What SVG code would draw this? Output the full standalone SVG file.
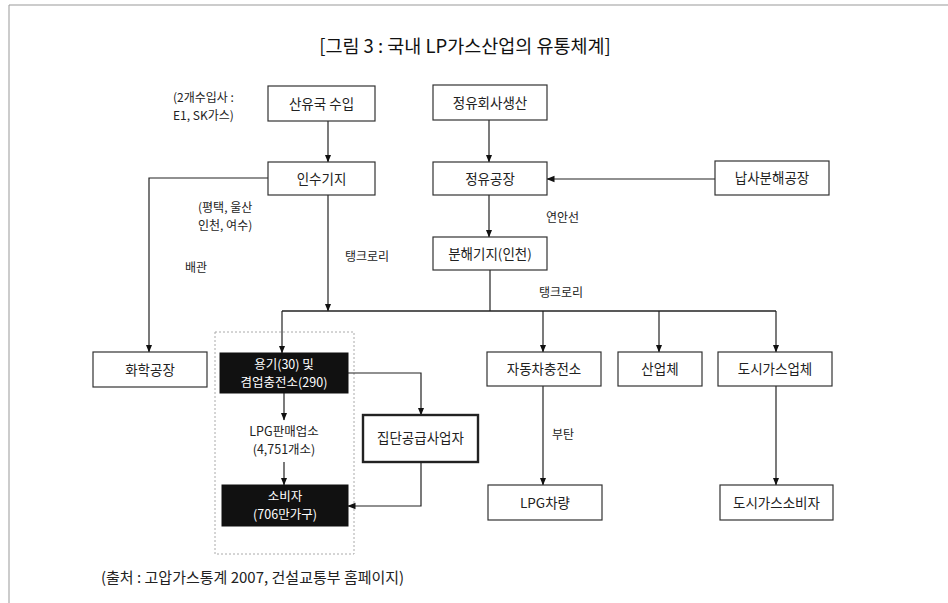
<svg xmlns="http://www.w3.org/2000/svg" width="948" height="603" viewBox="0 0 948 603">
<style>
text{font-family:"Noto Sans CJK KR","Noto Sans",sans-serif;fill:#222}
.n{font-size:13.5px;text-anchor:middle}
.n2{font-size:12.5px;text-anchor:middle}
.w{fill:#fff}
.l{font-size:12px}
.box{fill:#fff;stroke:#333;stroke-width:1.2}
.blk{fill:#111;stroke:#111;stroke-width:1}
.thick{fill:#fff;stroke:#222;stroke-width:2.4}
.c{fill:none;stroke:#222;stroke-width:1.2}
</style>
<defs>
<marker id="ah" markerUnits="userSpaceOnUse" markerWidth="8" markerHeight="8" viewBox="0 0 8 8" refX="7.5" refY="4" orient="auto">
<path d="M0,0.8 L8,4 L0,7.2 Z" fill="#111"/>
</marker>
</defs>
<rect width="948" height="603" fill="#fff"/>
<path d="M9,5 H948 M9,5 V603" fill="none" stroke="#999" stroke-width="1"/>
<text x="465" y="53" style="font-size:18.5px;text-anchor:middle;fill:#111">[그림 3 : 국내 LP가스산업의 유통체계]</text>

<rect x="215" y="332" width="139" height="222" fill="none" stroke="#aaa" stroke-width="1" stroke-dasharray="2,2"/>

<g id="connectors">
<path class="c" d="M328,121 V162" marker-end="url(#ah)"/>
<path class="c" d="M268,178 H149 V352" marker-end="url(#ah)"/>
<path class="c" d="M328,195 V311" marker-end="url(#ah)"/>
<path class="c" d="M489,120 V162" marker-end="url(#ah)"/>
<path class="c" d="M715,179 H547" marker-end="url(#ah)"/>
<path class="c" d="M489,195 V237" marker-end="url(#ah)"/>
<path class="c" d="M490,270 V311"/>
<path class="c" d="M282,311 H776" style="stroke-width:1.6"/>
<path class="c" d="M282,311 V353" marker-end="url(#ah)"/>
<path class="c" d="M543,311 V352" marker-end="url(#ah)"/>
<path class="c" d="M659,311 V352" marker-end="url(#ah)"/>
<path class="c" d="M776,311 V352" marker-end="url(#ah)"/>
<path class="c" d="M543,386 V485" marker-end="url(#ah)"/>
<path class="c" d="M776,386 V485" marker-end="url(#ah)"/>
<path class="c" d="M284,393 V420" marker-end="url(#ah)"/>
<path class="c" d="M284,462 V485" marker-end="url(#ah)"/>
<path class="c" d="M348,373 H421 V415" marker-end="url(#ah)"/>
<path class="c" d="M421,462 V506 H348" marker-end="url(#ah)"/>
</g>

<g id="labels">
<text class="l" x="173" y="102">(2개수입사 :<tspan x="173" dy="17.5">E1, SK가스)</tspan></text>
<text class="l" x="198" y="212">(평택, 울산<tspan x="198" dy="18">인천, 여수)</tspan></text>
<text class="l" x="185" y="272">배관</text>
<text class="l" x="345" y="261">탱크로리</text>
<text class="l" x="546" y="222">연안선</text>
<text class="l" x="539" y="297">탱크로리</text>
<text class="l" x="552" y="439">부탄</text>
</g>

<g id="n-sanyuguk"><rect class="box" x="268" y="86" width="107" height="35"/><text class="n" x="321.5" y="108.5">산유국 수입</text></g>
<g id="n-insugiji"><rect class="box" x="268" y="162" width="107" height="33"/><text class="n" x="321.5" y="183.5">인수기지</text></g>
<g id="n-jeongyuhoesa"><rect class="box" x="433" y="85" width="114" height="35"/><text class="n" x="490" y="107.5">정유회사생산</text></g>
<g id="n-jeongyugongjang"><rect class="box" x="433" y="162" width="114" height="33"/><text class="n" x="490" y="183.5">정유공장</text></g>
<g id="n-napsa"><rect class="box" x="715" y="161" width="114" height="34"/><text class="n" x="772" y="183">납사분해공장</text></g>
<g id="n-bunhaegiji"><rect class="box" x="433" y="237" width="114" height="33"/><text class="n" x="490" y="258.5">분해기지(인천)</text></g>
<g id="n-hwahak"><rect class="box" x="93" y="352" width="114" height="35"/><text class="n" x="150" y="374.5">화학공장</text></g>
<g id="n-yonggi"><rect class="blk" x="220" y="353" width="128" height="40"/><text class="n2 w" x="284" y="369">용기(30) 및<tspan x="284" dy="18.3">겸업충전소(290)</tspan></text></g>
<g id="n-lpgpanmae"><text class="n2" x="284" y="436">LPG판매업소<tspan x="284" dy="18.3">(4,751개소)</tspan></text></g>
<g id="n-jipdan"><rect class="thick" x="363" y="415" width="115" height="47"/><text class="n" x="420.5" y="443">집단공급사업자</text></g>
<g id="n-sobija"><rect class="blk" x="222" y="485" width="126" height="41"/><text class="n2 w" x="285" y="501">소비자<tspan x="285" dy="18.3">(706만가구)</tspan></text></g>
<g id="n-jadongcha"><rect class="box" x="487" y="352" width="114" height="34"/><text class="n" x="544" y="374">자동차충전소</text></g>
<g id="n-saneopche"><rect class="box" x="618" y="352" width="84" height="34"/><text class="n" x="660" y="374">산업체</text></g>
<g id="n-dosigas"><rect class="box" x="718" y="352" width="114" height="34"/><text class="n" x="775" y="374">도시가스업체</text></g>
<g id="n-lpgcharyang"><rect class="box" x="488" y="485" width="114" height="35"/><text class="n" x="545" y="507.5">LPG차량</text></g>
<g id="n-dosigassobija"><rect class="box" x="720" y="485" width="113" height="35"/><text class="n" x="776.5" y="507.5">도시가스소비자</text></g>

<text x="101" y="583" style="font-size:15px">(출처 : 고압가스통계 2007, 건설교통부 홈페이지)</text>
</svg>
